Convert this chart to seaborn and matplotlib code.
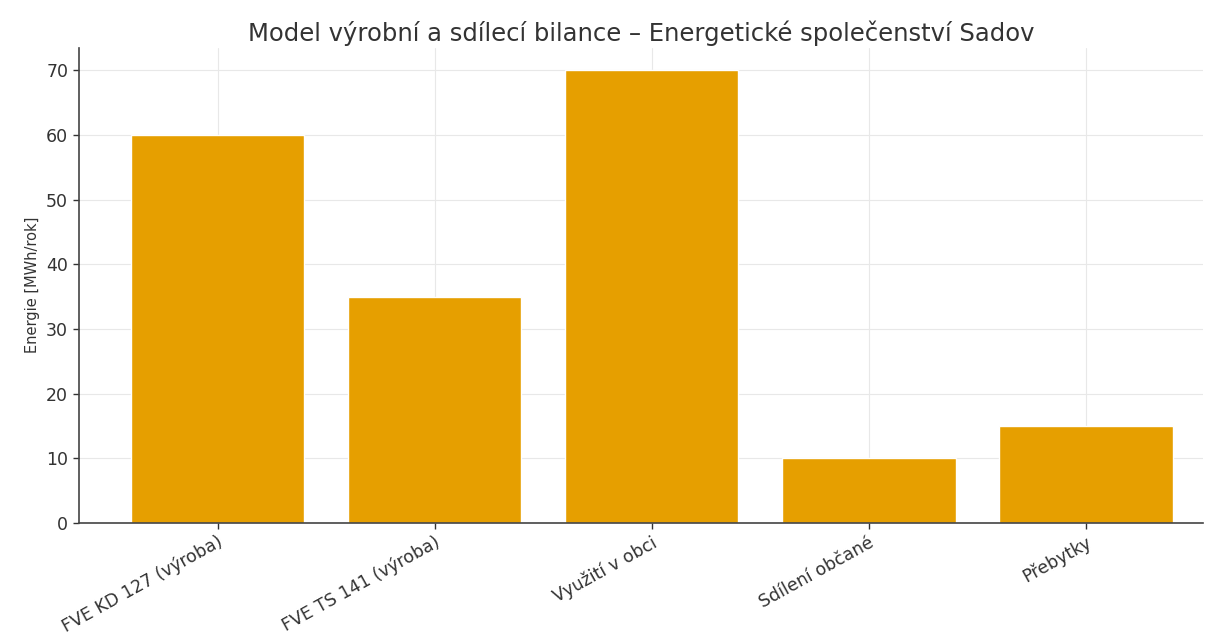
import matplotlib
matplotlib.use("Agg")
import matplotlib.pyplot as plt
import seaborn as sns
import pandas as pd

categories = ["FVE KD 127 (výroba)", "FVE TS 141 (výroba)", "Využití v obci", "Sdílení občané", "Přebytky"]
values = [60, 35, 70, 10, 15]

sns.set_theme(style="whitegrid")
plt.rcParams['font.family'] = ['DejaVu Sans']

df = pd.DataFrame({"kategorie": categories, "energie": values})

fig, ax = plt.subplots(figsize=(12.09, 6.36), dpi=100)
fig.subplots_adjust(left=0.065, right=0.995, top=0.925, bottom=0.178)

sns.barplot(data=df, x="kategorie", y="energie", color="#E69F00", saturation=1,
            width=0.8, ax=ax)

ax.set_xlim(-0.64, 4.54)
ax.set_ylim(0, 73.5)
ax.set_title("Model výrobní a sdílecí bilance – Energetické společenství Sadov",
             fontsize=17.5, color="#333333", pad=5)
ax.set_xlabel("")
ax.set_ylabel("Energie [MWh/rok]", fontsize=10.5, color="#333333")
ax.tick_params(axis="y", labelsize=12.5, colors="#333333", length=4, width=1,
               direction="out", left=True)
ax.tick_params(axis="x", labelsize=12.5, colors="#333333", length=4, width=1,
               direction="out", bottom=True)
plt.setp(ax.get_xticklabels(), rotation=29, ha="right", rotation_mode="anchor")
ax.grid(True, color="#e8e8e8", linewidth=0.8)
for s in ["top", "right"]:
    ax.spines[s].set_visible(False)
for s in ["left", "bottom"]:
    ax.spines[s].set_color("#444444")
    ax.spines[s].set_linewidth(1.2)

fig.savefig("out.png", dpi=100, facecolor="white")
